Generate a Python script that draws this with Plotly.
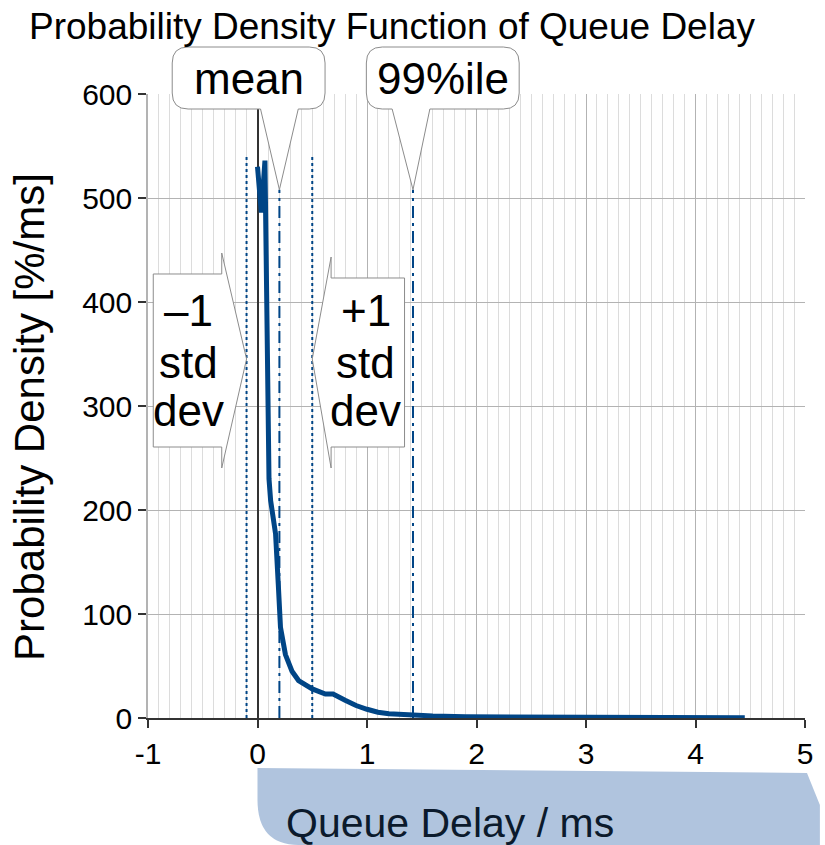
import plotly.graph_objects as go

# ---------------- data ----------------
delay_ms = [0.0, 0.035, 0.068, 0.105, 0.12, 0.165, 0.19, 0.21, 0.255, 0.315, 0.375,
            0.5, 0.62, 0.69, 0.8, 0.9, 1.0, 1.1, 1.2, 1.4, 1.6, 1.9, 2.5, 3.0, 3.5, 4.0, 4.45]
density = [530, 486, 536, 230, 209, 177, 128, 87, 61, 45, 36,
           28, 23, 23, 17, 12, 8.4, 5.5, 4.0, 2.7, 2.0, 1.2, 0.7, 0.5, 0.4, 0.3, 0.2]

marker_names = ["–1 std dev", "mean", "+1 std dev", "99%ile"]
marker_x = [-0.10, 0.20, 0.50, 1.42]
marker_top = [540, 508, 540, 508]
marker_dash = ["dot", "12px,5px,3px,5px", "dot", "12px,5px,3px,5px"]

x_ticks = [-1, 0, 1, 2, 3, 4, 5]
y_ticks = [0, 100, 200, 300, 400, 500, 600]

title_text = "Probability Density Function of Queue Delay"
y_title = "Probability Density [%/ms]"
x_title = "Queue Delay / ms"

# ---------------- layout geometry ----------------
W, H = 825, 845
ML, MR, MT, MB = 148, 15, 94, 127
PW, PH = W - ML - MR, H - MT - MB
XR = [-1, 5]
YR = [0, 600]
BLUE = "#004586"
FONT = "Liberation Sans, Arial, sans-serif"
NARROW = "Liberation Sans Narrow, Arial Narrow, Liberation Sans, sans-serif"


def d2px(xv, yv):
    px = ML + (xv - XR[0]) / (XR[1] - XR[0]) * PW
    py = MT + (YR[1] - yv) / (YR[1] - YR[0]) * PH
    return px, py


def pp(px, py):
    return (px - ML) / PW, (MT + PH - py) / PH


def path(cmds):
    """cmds: list of (letter, [points]); L segments are expanded one point each."""
    out = []
    for cmd, pts in cmds:
        conv = [pp(a, b) for (a, b) in pts]
        if cmd == "Q":
            out.append("Q " + " ".join(f"{x:.5f},{y:.5f}" for x, y in conv))
        else:
            for x, y in conv:
                out.append(f"{cmd} {x:.5f},{y:.5f}")
    return " ".join(out) + " Z"


fig = go.Figure()

# vertical marker lines
for name, mx, mt, dash in zip(marker_names, marker_x, marker_top, marker_dash):
    fig.add_trace(go.Scatter(x=[mx, mx], y=[0, mt], mode="lines",
                             line=dict(color=BLUE, width=2, dash=dash),
                             hoverinfo="skip", showlegend=False, name=name))

# main curve
fig.add_trace(go.Scatter(x=delay_ms, y=density, mode="lines",
                         line=dict(color=BLUE, width=5), showlegend=False,
                         name="PDF"))

shapes = []
annotations = []


def top_callout(mx, mt, text, left_off, right_off, base_l, base_r):
    tx, ty = d2px(mx, mt)
    L, R = tx + left_off, tx + right_off
    T, B = 47, 109
    r = 16
    bl, br = tx + base_l, tx + base_r
    p = path([("M", [(L + r, T)]), ("L", [(R - r, T)]), ("Q", [(R, T), (R, T + r)]),
              ("L", [(R, B - r)]), ("Q", [(R, B), (R - r, B)]),
              ("L", [(br, B), (tx, ty), (bl, B), (L + r, B)]),
              ("Q", [(L, B), (L, B - r)]), ("L", [(L, T + r)]), ("Q", [(L, T), (L + r, T)])])
    shapes.append(dict(type="path", path=p, xref="paper", yref="paper",
                       fillcolor="white", line=dict(color="#8c8c8c", width=1), layer="above"))
    cx, cy = pp((L + R) / 2, 78)
    annotations.append(dict(text=text, x=cx, y=cy, xref="paper", yref="paper",
                            showarrow=False, xanchor="center", yanchor="middle",
                            font=dict(family=FONT, size=44, color="black")))


top_callout(marker_x[1], marker_top[1], "mean", -108, 46, -19, 19)
top_callout(marker_x[3], marker_top[3], "99%ile", -47, 107, -21, 17)


def side_callout(mx, lines, side):
    tx, _ = d2px(mx, 0)
    ty = 359
    if side == "left":  # box left of tip, pointer to the right
        E = tx - 25
        L = tx - 94
        T, B = 274, 447
        p = path([("M", [(L, T)]), ("L", [(E, T), (E, 253), (tx, ty), (E, 468), (E, B), (L, B)])])
        cxp = tx - 58
    else:
        E = tx + 19
        R = tx + 93
        T, B = 278, 447
        p = path([("M", [(R, T)]), ("L", [(E, T), (E, 257), (tx, ty), (E, 468), (E, B), (R, B)])])
        cxp = tx + 54
    shapes.append(dict(type="path", path=p, xref="paper", yref="paper",
                       fillcolor="white", line=dict(color="#8c8c8c", width=1), layer="above"))
    for txt, base in zip(lines, [325, 377, 425]):
        cx, cy = pp(cxp, base - 15)
        annotations.append(dict(text=txt, x=cx, y=cy, xref="paper", yref="paper",
                                showarrow=False, xanchor="center", yanchor="middle",
                                font=dict(family=FONT, size=44, color="black")))


side_callout(marker_x[0], ["–1", "std", "dev"], "left")
side_callout(marker_x[2], ["+1", "std", "dev"], "right")

# x-axis title band
x0px, _ = d2px(0, 0)
band = path([("M", [(x0px, 768)]), ("L", [(812, 773), (825, 805), (825, 845), (x0px + 42, 845)]),
             ("Q", [(x0px, 845), (x0px, 800)])])
shapes.append(dict(type="path", path=band, xref="paper", yref="paper",
                   fillcolor="#B0C4DE", line=dict(width=0), layer="below"))
cx, cy = pp(452, 823)
annotations.append(dict(text=x_title, x=cx, y=cy, xref="paper", yref="paper",
                        showarrow=False, xanchor="center", yanchor="middle",
                        font=dict(family=FONT, size=41, color="#0b1a2c")))

# title
cx, cy = pp(394, 27)
annotations.append(dict(text=title_text, x=cx, y=cy, xref="paper", yref="paper",
                        showarrow=False, xanchor="center", yanchor="middle",
                        font=dict(family=NARROW, size=37, color="black")))
# y title
cx, cy = pp(29, 417)
annotations.append(dict(text=y_title, x=cx, y=cy, xref="paper", yref="paper",
                        showarrow=False, xanchor="center", yanchor="middle", textangle=-90,
                        font=dict(family=NARROW, size=42, color="black")))

fig.update_layout(
    width=W, height=H, margin=dict(l=ML, r=MR, t=MT, b=MB),
    paper_bgcolor="white", plot_bgcolor="white",
    shapes=shapes, annotations=annotations, showlegend=False,
    xaxis=dict(range=XR, tickvals=x_ticks, ticktext=[str(v) for v in x_ticks],
               showgrid=True, gridcolor="#b3b3b3", gridwidth=1,
               minor=dict(dtick=0.1, showgrid=True, gridcolor="#dcdcdc", gridwidth=1),
               zeroline=True, zerolinecolor="#333333", zerolinewidth=1.5,
               showline=True, linecolor="#333333", linewidth=1.5,
               ticks="outside", ticklen=8, tickcolor="#333333", tickwidth=1.5,
               tickfont=dict(family=FONT, size=30, color="black")),
    yaxis=dict(range=YR, tickvals=y_ticks, ticktext=[str(v) for v in y_ticks],
               showgrid=True, gridcolor="#b3b3b3", gridwidth=1,
               zeroline=False,
               showline=True, linecolor="#b3b3b3", linewidth=1.5,
               ticks="outside", ticklen=8, tickcolor="#333333", tickwidth=1.5,
               tickfont=dict(family=FONT, size=30, color="black")),
)

fig.write_html("out.html")
